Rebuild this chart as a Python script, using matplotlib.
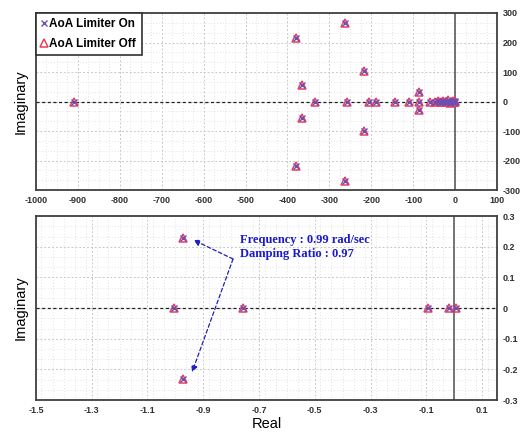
import matplotlib.pyplot as plt
from matplotlib.ticker import MultipleLocator, AutoMinorLocator

plt.rcParams['font.family'] = ['Liberation Sans', 'DejaVu Sans']
plt.rcParams['axes.unicode_minus'] = False

# pole locations, whole range (top panel)
re_on = [-909, -380, -380, -365, -365, -334, -263, -263, -258, -217, -217, -205, -190,
         -143, -110, -86, -86, -86, -60, -48, -42, -37, -32, -28, -24, -20, -16,
         -12, -9, -6, -4, -2, -1, 0]
im_on = [0, 215, -218, 57, -57, 0, 266, -268, 0, 102, -100, 0, 0,
         0, 0, 32, 0, -30, 0, 0, 2, -2, 0, 3, -3, 0, 4, -4, 0, 2, -2, 0, 1, 0]
re_off = re_on
im_off = im_on

# zoom near the origin (bottom panel)
re_zoom = [-0.973, -0.973, -1.005, -0.757, -0.093, -0.017, 0.005]
im_zoom = [0.228, -0.231, 0.0, 0.0, 0.0, 0.0, 0.0]

c_on = '#6a4fb5'
c_off = '#e8405f'

fig = plt.figure(figsize=(5.2, 4.33), dpi=100)
ax1 = fig.add_axes([0.069, 0.561, 0.887, 0.409])
ax2 = fig.add_axes([0.069, 0.076, 0.887, 0.425])


def style(ax):
    ax.grid(which='major', color='#c8c8c8', linestyle=(0, (2, 2)), linewidth=0.7)
    ax.grid(which='minor', color='#dadada', linestyle=(0, (1, 2.5)), linewidth=0.6)
    ax.set_axisbelow(True)
    for s in ax.spines.values():
        s.set_color('#404040')
        s.set_linewidth(1.3)
    ax.yaxis.tick_right()
    ax.tick_params(which='both', length=0, labelsize=6.5, pad=4)
    for lab in ax.get_xticklabels() + ax.get_yticklabels():
        lab.set_fontweight('bold')
        lab.set_color('#303030')
    ax.axhline(0, color='#202020', linestyle=(0, (2.5, 2)), linewidth=0.9, zorder=1)
    ax.axvline(0, color='#505050', linewidth=1.1, zorder=1)


ax1.set_xlim(-1000, 100)
ax1.set_ylim(-300, 300)
ax1.xaxis.set_major_locator(MultipleLocator(100))
ax1.xaxis.set_minor_locator(MultipleLocator(25))
ax1.yaxis.set_major_locator(MultipleLocator(100))
ax1.yaxis.set_minor_locator(AutoMinorLocator(3))
ax1.plot(re_off, im_off, linestyle='none', marker='^', markersize=6, mfc='none',
         mec=c_off, mew=1.1, label='AoA Limiter Off', zorder=3)
ax1.plot(re_on, im_on, linestyle='none', marker='x', markersize=4.5, color=c_on,
         mew=1.0, label='AoA Limiter On', zorder=4)
style(ax1)
ax1.set_ylabel('Imaginary', fontsize=10.5, labelpad=6)
h, l = ax1.get_legend_handles_labels()
leg = ax1.legend(h[::-1], l[::-1], loc='upper left', prop={'weight': 'bold', 'size': 8.5},
                 handlelength=0.5, handletextpad=0.2, borderpad=0.45, labelspacing=0.65,
                 fancybox=False, borderaxespad=0, framealpha=1)
leg.get_frame().set_edgecolor('#303030')
leg.get_frame().set_linewidth(1.2)

ax2.set_xlim(-1.5, 0.154)
ax2.set_ylim(-0.3, 0.3)
ax2.xaxis.set_major_locator(MultipleLocator(0.2))
ax2.xaxis.set_minor_locator(MultipleLocator(0.04))
ax2.set_xticks([-1.5, -1.3, -1.1, -0.9, -0.7, -0.5, -0.3, -0.1, 0.1])
ax2.set_xticklabels(['-1.5', '-1.3', '-1.1', '-0.9', '-0.7', '-0.5', '-0.3', '-0.1', '0.1'])
ax2.yaxis.set_major_locator(MultipleLocator(0.1))
ax2.yaxis.set_minor_locator(AutoMinorLocator(3))
ax2.plot(re_zoom, im_zoom, linestyle='none', marker='^', markersize=6, mfc='none',
         mec=c_off, mew=1.1, zorder=3)
ax2.plot(re_zoom, im_zoom, linestyle='none', marker='x', markersize=4.5, color=c_on,
         mew=1.0, zorder=4)
style(ax2)
ax2.set_yticks([-0.3, -0.2, -0.1, 0, 0.1, 0.2, 0.3])
ax2.set_yticklabels(['-0.3', '-0.2', '-0.1', '0', '0.1', '0.2', '0.3'], fontweight='bold')
ax2.set_ylabel('Imaginary', fontsize=10.5, labelpad=6)
ax2.set_xlabel('Real', fontsize=10.5, labelpad=2)

ax2.text(-0.768, 0.199, 'Frequency : 0.99 rad/sec\nDamping Ratio : 0.97',
         family='Liberation Serif', fontweight='bold', fontsize=9, color='#1a1acc',
         va='center', ha='left', linespacing=1.15)
for tip in [(-0.935, 0.222), (-0.94, -0.209)]:
    ax2.annotate('', xy=tip, xytext=(-0.793, 0.16),
                 arrowprops=dict(arrowstyle='-|>', color='#2020c0', linestyle=(0, (3, 2)),
                                 linewidth=0.9, mutation_scale=9, shrinkA=0, shrinkB=0))

fig.savefig('out.png', dpi=100)
